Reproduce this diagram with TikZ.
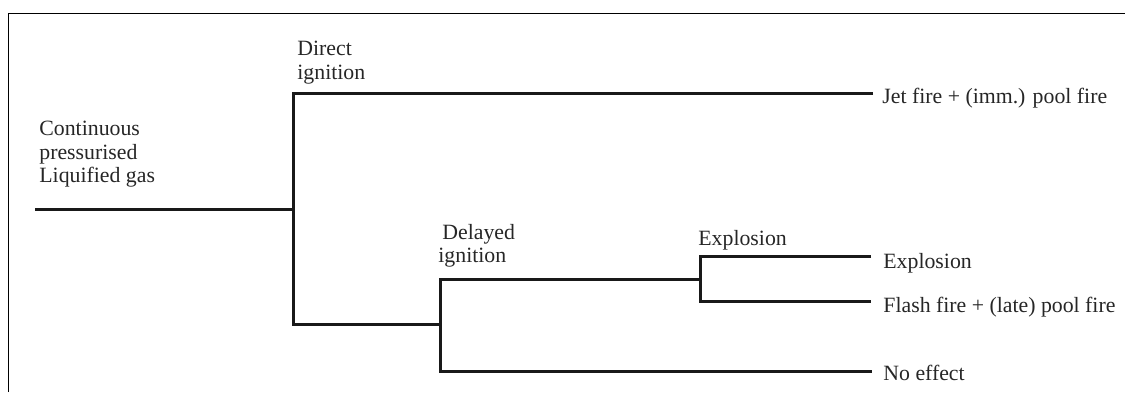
\documentclass[tikz,border=0pt]{standalone}
\usepackage{fontspec}
\setmainfont{Liberation Serif}
\begin{document}
\begin{tikzpicture}[x=0.5pt,y=-0.5pt,
  branch/.style={line width=1.5pt,line join=miter,black!90},
  lbl/.style={inner sep=0pt,font=\fontsize{10.9pt}{11.9pt}\selectfont,text=black!85},
  mlbl/.style={lbl,align=left,anchor=north west}]
\useasboundingbox (0,0) rectangle (1129,392);
% frame
\draw[line width=0.5pt] (8,392) -- (8,13) -- (1125,13);

% junction points of the tree
\coordinate (root) at (35,209);
\coordinate (j1) at (293,209);
\coordinate (d1) at (293,93);
\coordinate (e1) at (873,93);
\coordinate (l1) at (293,324);
\coordinate (j2) at (440,324);
\coordinate (d2) at (440,279);
\coordinate (j3) at (700,279);
\coordinate (x1) at (700,256);
\coordinate (ex1) at (871,256);
\coordinate (x2) at (700,301);
\coordinate (ex2) at (871,301);
\coordinate (n1) at (440,371);
\coordinate (en) at (872,371);

% branches
\draw[branch] (root) -- (j1);
\draw[branch] (e1) -- (d1) -- (l1) -- (j2);
\draw[branch] (j3) -- (d2) -- (n1) -- (en);
\draw[branch] (ex1) -- (x1) -- (x2) -- (ex2);

% labels
\node[mlbl] (src) at (39,120.5) {Continuous\\pressurised\\Liquified gas};
\node[mlbl] (direct) at (297,40.5) {Direct\\ignition};
\node[mlbl] (delayed) at (438,223.5) {\hspace*{2pt}Delayed\\ignition};
\node[lbl,anchor=base west] (expl) at (698,245) {Explosion};
\node[lbl,anchor=base west] (jet) at (882,103) {Jet fire + (imm.) pool fire};
\node[lbl,anchor=base west] (oexpl) at (883,268) {Explosion};
\node[lbl,anchor=base west] (flash) at (883,312) {Flash fire + (late) pool fire};
\node[lbl,anchor=base west] (none) at (883,380) {No effect};
\end{tikzpicture}
\end{document}
